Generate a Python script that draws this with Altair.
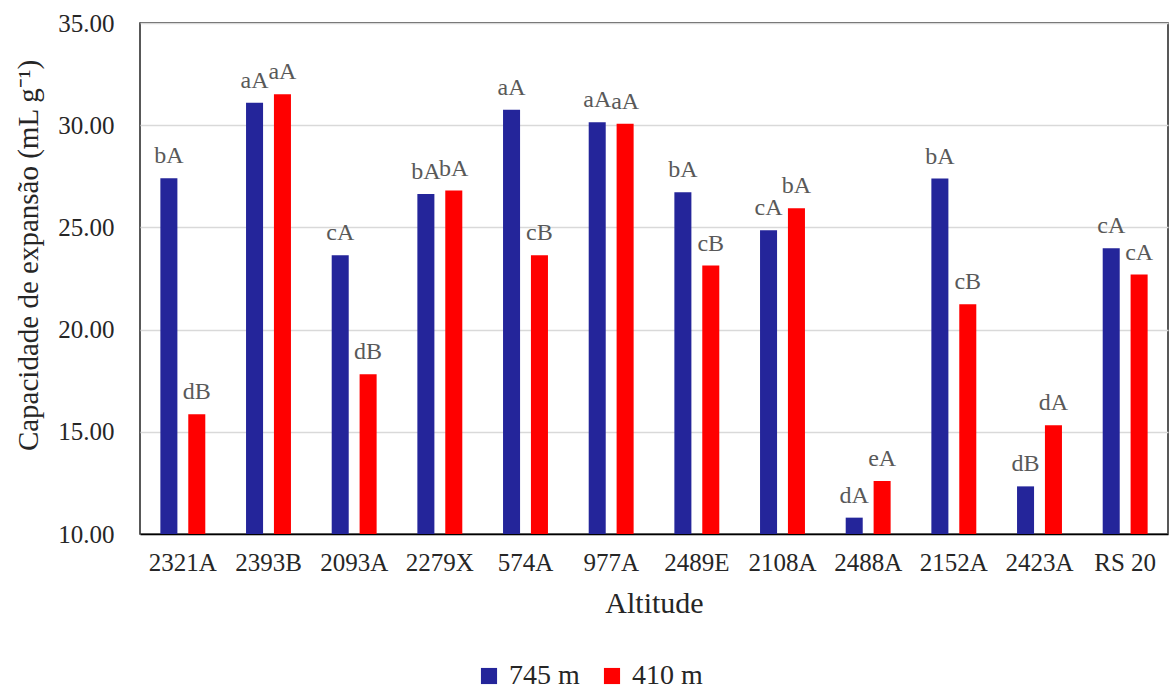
import altair as alt
import pandas as pd

# Genotypes on the x axis
genotypes = ["2321A", "2393B", "2093A", "2279X", "574A", "977A",
             "2489E", "2108A", "2488A", "2152A", "2423A", "RS 20"]

# Expansion capacity (mL g-1) at each altitude
cap_745 = [27.41, 31.10, 23.64, 26.64, 30.75, 30.15, 26.72, 24.86, 10.80, 27.39, 12.33, 23.98]
cap_410 = [15.86, 31.52, 17.82, 26.80, 23.64, 30.07, 23.13, 25.94, 12.59, 21.24, 15.32, 22.69]

# Mean comparison letters shown above each bar
letters_745 = ["bA", "aA", "cA", "bA", "aA", "aA", "bA", "cA", "dA", "bA", "dB", "cA"]
letters_410 = ["dB", "aA", "dB", "bA", "cB", "aA", "cB", "bA", "eA", "cB", "dA", "cA"]

series = ["745 m", "410 m"]
colors = ["#24259A", "#FF0000"]

rows = []
for g, a, b, la, lb in zip(genotypes, cap_745, cap_410, letters_745, letters_410):
    rows.append({"Altitude": g, "Serie": series[0], "Valor": a, "Letra": la})
    rows.append({"Altitude": g, "Serie": series[1], "Valor": b, "Letra": lb})
df = pd.DataFrame(rows)

FONT = "Liberation Serif"

x_enc = alt.X(
    "Altitude:N",
    sort=genotypes,
    scale=alt.Scale(paddingInner=0, paddingOuter=0),
    axis=alt.Axis(
        title="Altitude",
        labelAngle=0,
        labelFont=FONT,
        labelFontSize=25,
        labelColor="#262626",
        labelPadding=16,
        titleFont=FONT,
        titleFontSize=30,
        titleFontWeight="normal",
        titleColor="#262626",
        titlePadding=13,
        ticks=False,
        domain=True,
        domainColor="#000000",
        domainWidth=1.5,
        grid=False,
    ),
)
xoff_enc = alt.XOffset(
    "Serie:N",
    sort=series,
    scale=alt.Scale(paddingInner=0.39, paddingOuter=0.73),
)
y_scale = alt.Scale(domain=[10, 35], zero=False, nice=False)

bars = alt.Chart(df).mark_bar().encode(
    x=x_enc,
    xOffset=xoff_enc,
    y=alt.Y(
        "Valor:Q",
        scale=y_scale,
        axis=alt.Axis(
            title="Capacidade de expansão (mL g\u207B\u00B9)",
            values=[10, 15, 20, 25, 30, 35],
            format=".2f",
            labelFont=FONT,
            labelFontSize=25,
            labelColor="#262626",
            labelPadding=26,
            titleFont=FONT,
            titleFontSize=29,
            titleFontWeight="normal",
            titleColor="#262626",
            titlePadding=14,
            titleY=232,
            ticks=False,
            domain=False,
            grid=True,
            gridColor="#d9d9d9",
            gridWidth=1.5,
        ),
    ),
    y2=alt.datum(10),
    color=alt.Color(
        "Serie:N",
        sort=series,
        scale=alt.Scale(domain=series, range=colors),
        legend=alt.Legend(
            title=None,
            orient="none",
            direction="horizontal",
            legendX=335,
            legendY=639,
            symbolType="square",
            symbolSize=260,
            symbolStrokeWidth=0,
            labelFont=FONT,
            labelFontSize=28,
            labelColor="#262626",
            labelOffset=6,
            columnPadding=18,
        ),
    ),
)

labels = alt.Chart(df).mark_text(
    font=FONT,
    fontSize=24,
    color="#595959",
    baseline="alphabetic",
    dy=-15,
).encode(
    x=alt.X("Altitude:N", sort=genotypes),
    xOffset=alt.XOffset("Serie:N", sort=series),
    y=alt.Y("Valor:Q"),
    text="Letra:N",
)

chart = (
    alt.layer(bars, labels)
    .properties(
        width=1028,
        height=511,
        autosize=alt.AutoSizeParams(type="none"),
        padding={"left": 140, "top": 23, "right": 1, "bottom": 155},
        background="white",
    )
    .configure_view(stroke="#222222", strokeWidth=1.5)
)

chart.save("out.html", embed_options={"renderer": "svg", "actions": False})
